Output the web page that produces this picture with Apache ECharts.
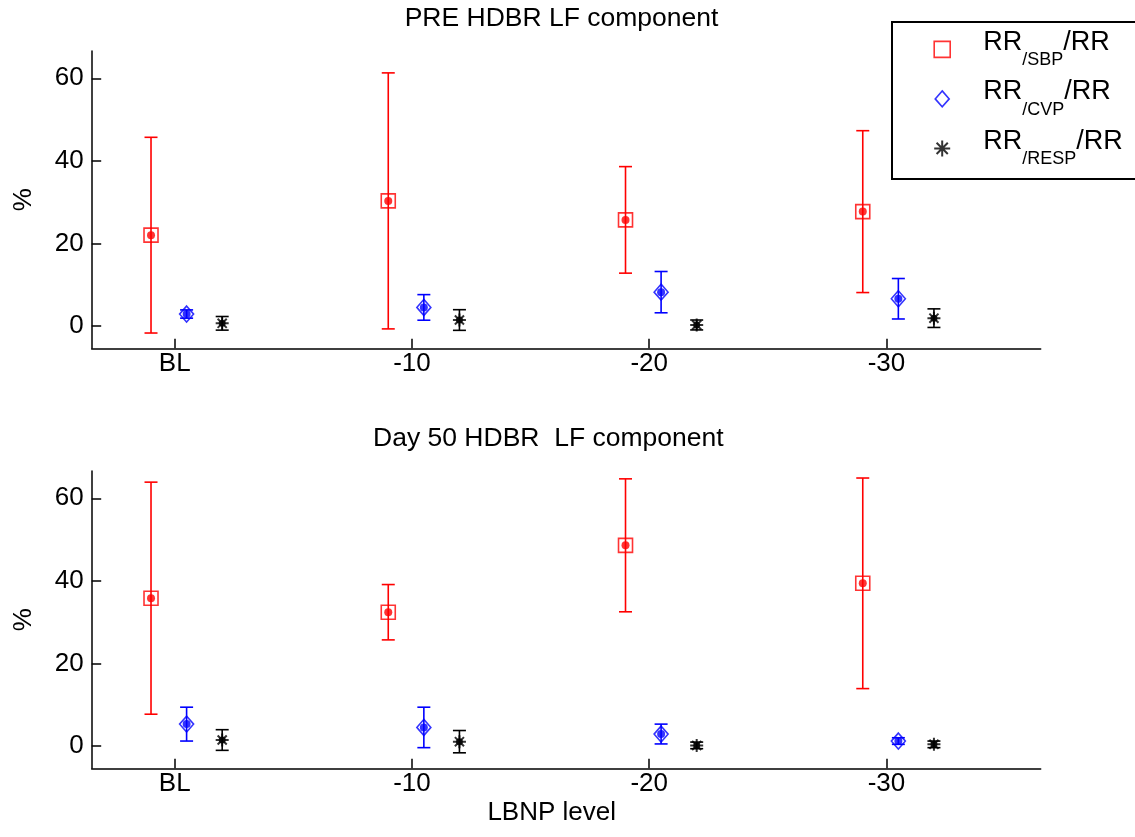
<!DOCTYPE html>
<html>
<head>
<meta charset="utf-8">
<script src="https://cdn.jsdelivr.net/npm/echarts@6/dist/echarts.min.js"></script>
<style>
  html, body { margin: 0; padding: 0; background: #fff; }
  #chart { width: 1135px; height: 837px; }
</style>
</head>
<body>
<div id="chart"></div>
<script>
// LBNP levels on the x axis
const levels = ['BL', '-10', '-20', '-30'];
const yTicks = [0, 20, 40, 60];

// Panel titles
const panelTitles = ['PRE HDBR LF component', 'Day 50 HDBR  LF component'];

// Transfer-function components (mean and half-width of the error bar), %
const preSBPMean  = [22.0, 30.3, 25.7, 27.7];
const preSBPErr   = [23.7, 31.0, 12.9, 19.6];
const preCVPMean  = [2.9, 4.5, 8.2, 6.6];
const preCVPErr   = [1.0, 3.1, 5.0, 4.9];
const preRESPMean = [0.65, 1.45, 0.25, 1.9];
const preRESPErr  = [1.65, 2.5, 1.2, 2.25];

const d50SBPMean  = [35.8, 32.4, 48.6, 39.4];
const d50SBPErr   = [28.1, 6.7, 16.1, 25.5];
const d50CVPMean  = [5.3, 4.5, 2.9, 1.2];
const d50CVPErr   = [4.1, 4.9, 2.4, 0.8];
const d50RESPMean = [1.45, 1.05, 0.15, 0.4];
const d50RESPErr  = [2.5, 2.7, 0.8, 0.8];

const seriesNames = ['RR/SBP/RR', 'RR/CVP/RR', 'RR/RESP/RR'];
const subscripts = { 'RR/SBP/RR': '/SBP', 'RR/CVP/RR': '/CVP', 'RR/RESP/RR': '/RESP' };

const FONT = 'Liberation Sans, Arial, Helvetica, sans-serif';
const FS = 26;

// horizontal shift of each group relative to its LBNP level
const groupShift = [-0.1, 0.05, 0.2];
const groupColor = ['#ff0000', '#0000ff', '#000000'];
const asteriskPath = 'path://M6,0L6,12M0,6L12,6M1.8,1.8L10.2,10.2M1.8,10.2L10.2,1.8';
const groupSymbol = ['rect', 'diamond', asteriskPath];
const groupSymbolSize = [14, [14, 16], 13];

const panels = [
  [[preSBPMean, preSBPErr], [preCVPMean, preCVPErr], [preRESPMean, preRESPErr]],
  [[d50SBPMean, d50SBPErr], [d50CVPMean, d50CVPErr], [d50RESPMean, d50RESPErr]]
];

const chart = echarts.init(document.getElementById('chart'), null, { renderer: 'canvas' });

const gridTops = [51, 471];
const grids = gridTops.map(t => ({ left: 91.7, width: 949, top: t, height: 297.3 }));

const axisLineStyle = { color: '#000', width: 1.5 };

const xAxes = grids.map((g, i) => ({
  type: 'value', gridIndex: i, min: 0.65, max: 4.65,
  splitLine: { show: false },
  axisLine: { show: true, onZero: false, lineStyle: axisLineStyle },
  axisTick: { show: true, inside: true, length: 9.5, customValues: [1, 2, 3, 4], lineStyle: axisLineStyle },
  axisLabel: {
    customValues: [1, 2, 3, 4], margin: 3,
    formatter: v => levels[Math.round(v) - 1],
    color: '#000', fontSize: FS, fontFamily: FONT
  },
  name: i === 1 ? 'LBNP level' : '',
  nameLocation: 'middle', nameGap: 32,
  nameTextStyle: { color: '#000', fontSize: FS, fontFamily: FONT, padding: [0, 29, 0, 0] }
}));

const yAxes = grids.map((g, i) => ({
  type: 'value', gridIndex: i, min: -5.4, max: 66.6,
  splitLine: { show: false },
  axisLine: { show: true, lineStyle: axisLineStyle },
  axisTick: { show: true, inside: true, length: 9.5, customValues: yTicks, lineStyle: axisLineStyle },
  axisLabel: { customValues: yTicks, margin: 8, color: '#000', fontSize: FS, fontFamily: FONT },
  name: '%', nameLocation: 'middle', nameGap: 55, nameRotate: 90,
  nameTextStyle: { color: '#000', fontSize: FS, fontFamily: FONT }
}));

function errorBarRender(color) {
  return function (params, api) {
    const x = api.value(0);
    const top = api.coord([x, api.value(2)]);
    const bot = api.coord([x, api.value(1)]);
    const hw = 6.5;
    const style = { stroke: color, lineWidth: 1.6, fill: null };
    return {
      type: 'group',
      children: [
        { type: 'line', shape: { x1: top[0], y1: top[1], x2: bot[0], y2: bot[1] }, style },
        { type: 'line', shape: { x1: top[0] - hw, y1: top[1], x2: top[0] + hw, y2: top[1] }, style },
        { type: 'line', shape: { x1: bot[0] - hw, y1: bot[1], x2: bot[0] + hw, y2: bot[1] }, style }
      ]
    };
  };
}

const series = [];
panels.forEach((groups, p) => {
  groups.forEach(([mean, err], k) => {
    const color = groupColor[k];
    const name = seriesNames[k];
    const pts = mean.map((m, i) => [i + 1 + groupShift[k], m]);
    // outline marker
    series.push({
      type: 'scatter', name, xAxisIndex: p, yAxisIndex: p, z: 3,
      symbol: groupSymbol[k], symbolSize: groupSymbolSize[k],
      itemStyle: k === 2
        ? { color: color, borderColor: color, borderWidth: 2 }
        : { color: 'rgba(0,0,0,0)', borderColor: color, borderWidth: 1.6 },
      emphasis: { disabled: true },
      data: pts
    });
    // filled centre dot
    series.push({
      type: 'scatter', name: name + ' ', xAxisIndex: p, yAxisIndex: p, z: 4,
      symbol: 'circle', symbolSize: k === 2 ? 7 : 8,
      itemStyle: { color: color },
      emphasis: { disabled: true },
      data: pts
    });
    // error bars
    series.push({
      type: 'custom', name: name + '  ', xAxisIndex: p, yAxisIndex: p, z: 2,
      renderItem: errorBarRender(color),
      encode: { x: 0, y: [1, 2] },
      data: mean.map((m, i) => [i + 1 + groupShift[k], m - err[i], m + err[i]])
    });
  });
});

const legendIcons = ['path://M0,0L14,0L14,14L0,14Z', 'path://M7,0L14,8L7,16L0,8Z', asteriskPath];

const option = {
  backgroundColor: '#fff',
  animation: false,
  textStyle: { fontFamily: FONT },
  grid: grids,
  xAxis: xAxes,
  yAxis: yAxes,
  series,
  legend: {
    orient: 'vertical', left: 892, top: 22,
    padding: [6.9, 80, 10, 41.2],
    itemWidth: 16, itemHeight: 16, itemGap: 8.5,
    borderColor: '#000', borderWidth: 2, backgroundColor: '#fff',
    selectedMode: false,
    data: seriesNames.map((n, k) => ({
      name: n,
      icon: legendIcons[k],
      itemStyle: k === 2
        ? { color: '#000', borderColor: '#000', borderWidth: 2 }
        : { color: 'rgba(0,0,0,0)', borderColor: groupColor[k], borderWidth: 1.6 }
    })),
    formatter: n => '{m0|RR}{sub|' + subscripts[n] + '}{m|/RR}',
    textStyle: {
      color: '#000', fontFamily: FONT,
      rich: {
        m0: { fontSize: 27, lineHeight: 28, padding: [0, 0, 14, 28], fontFamily: FONT, color: '#000' },
        m: { fontSize: 27, lineHeight: 28, padding: [0, 0, 14, 0], fontFamily: FONT, color: '#000' },
        sub: { fontSize: 18, lineHeight: 20, padding: [22, 0, 0, 0], fontFamily: FONT, color: '#000' }
      }
    }
  },
  graphic: [
    { type: 'text', x: 561.5, y: 19, silent: true,
      style: { text: panelTitles[0], fontSize: FS + 0.5, fontFamily: FONT, fill: '#000', align: 'center', verticalAlign: 'middle' } },
    { type: 'text', x: 548.3, y: 439, silent: true,
      style: { text: panelTitles[1], fontSize: FS + 0.5, fontFamily: FONT, fill: '#000', align: 'center', verticalAlign: 'middle' } }
  ]
};

chart.setOption(option);
</script>
</body>
</html>
